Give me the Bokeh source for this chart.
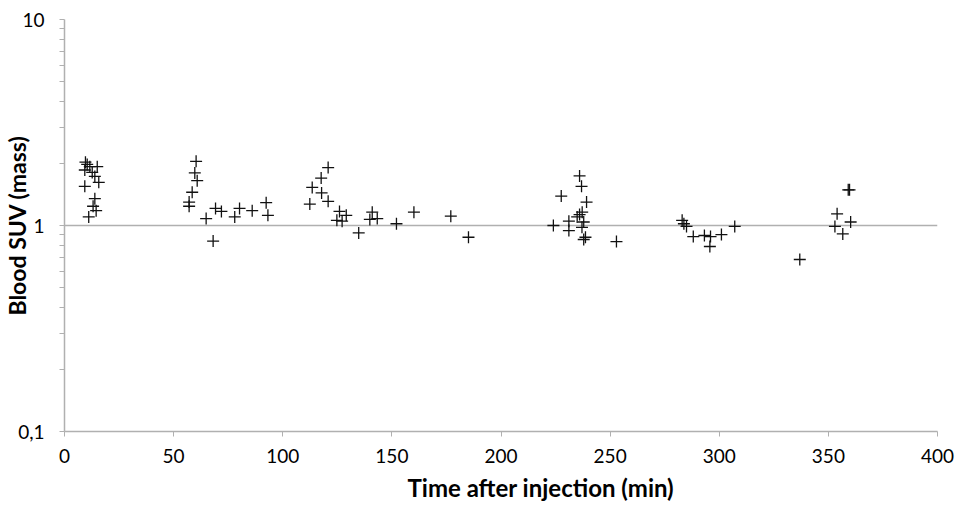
from bokeh.plotting import figure
from bokeh.models import Range1d, FixedTicker, Title
from bokeh.embed import file_html
from bokeh.resources import INLINE

time_min = [9.6, 10.4, 9.3, 11.6, 12.7, 15.0, 13.9, 15.7, 9.3, 13.9, 13.1, 14.5, 11.1,
            60.3, 59.7, 60.8, 58.5, 57.1, 57.1, 64.9, 68.1, 69.2, 71.9, 78.0, 80.2, 86.0, 92.4, 93.2,
            120.8, 117.6, 113.5, 117.8, 120.8, 112.4, 126.0, 129.1, 124.8, 127.2, 134.8, 141.0,
            139.9, 143.3, 152.1, 160.1, 177.0, 185.1,
            236.0, 236.9, 227.6, 239.2, 237.2, 236.0, 234.9, 231.1, 237.9, 224.0, 237.1, 231.1,
            238.7, 237.9, 252.9,
            283.0, 283.8, 285.0, 288.1, 293.2, 296.0, 295.7, 301.0, 307.1,
            359.1, 359.7, 354.0, 360.2, 353.0, 356.6, 336.9]
blood_suv = [2.03, 1.98, 1.86, 1.93, 1.81, 1.93, 1.73, 1.62, 1.55, 1.35, 1.24, 1.18, 1.10,
             2.05, 1.80, 1.65, 1.45, 1.30, 1.24, 1.08, 0.84, 1.21, 1.17, 1.10, 1.21, 1.18, 1.29, 1.12,
             1.91, 1.70, 1.53, 1.44, 1.31, 1.27, 1.17, 1.12, 1.06, 1.05, 0.92, 1.16,
             1.07, 1.08, 1.02, 1.16, 1.11, 0.877,
             1.74, 1.55, 1.39, 1.30, 1.16, 1.13, 1.10, 1.05, 1.04, 1.00, 0.98, 0.945,
             0.877, 0.855, 0.836,
             1.06, 1.02, 0.99, 0.884, 0.894, 0.884, 0.791, 0.904, 0.99,
             1.49, 1.49, 1.14, 1.04, 0.99, 0.91, 0.684]

x_ticks = [0, 50, 100, 150, 200, 250, 300, 350, 400]
y_ticks = [0.1, 1, 10]
y_tick_labels = {0.1: "0,1", 1: "1", 10: "10"}
y_minor = [0.2, 0.3, 0.4, 0.5, 0.6, 0.7, 0.8, 0.9, 2, 3, 4, 5, 6, 7, 8, 9]
x_title = "Time after injection (min)"
y_title = "Blood SUV (mass)"

FONT = "Lato"
AXIS_COLOR = "#b0b0b0"

p = figure(frame_width=873, frame_height=412, y_axis_type="log",
           x_range=Range1d(0, 400), y_range=Range1d(0.1, 10),
           output_backend="svg", toolbar_location=None,
           min_border_left=64, min_border_right=20, min_border_top=19, min_border_bottom=70)
p.outline_line_color = None

p.scatter(time_min, blood_suv, marker="cross", size=12, line_color="#111111", line_width=1.3)

p.xaxis.ticker = FixedTicker(ticks=x_ticks)
p.yaxis.ticker = FixedTicker(ticks=y_ticks, minor_ticks=y_minor)
p.yaxis.major_label_overrides = y_tick_labels

for ax in (p.xaxis, p.yaxis):
    ax.axis_line_color = AXIS_COLOR
    ax.axis_line_width = 1.5
    ax.major_tick_line_color = AXIS_COLOR
    ax.minor_tick_line_color = AXIS_COLOR
    ax.major_tick_in = 0
    ax.major_tick_out = 5
    ax.minor_tick_in = 0
    ax.minor_tick_out = 5
    ax.major_label_text_font = FONT
    ax.major_label_text_font_size = "19px"
    ax.major_label_text_color = "#000000"

p.xaxis.minor_tick_line_color = None
p.xaxis.major_label_standoff = 12
p.yaxis.major_label_standoff = 15

# y title as axis label (pulled in towards the tick labels, as in the reference)
p.yaxis.axis_label = y_title
p.yaxis.axis_label_text_font = FONT
p.yaxis.axis_label_text_font_size = "23px"
p.yaxis.axis_label_text_font_style = "bold"
p.yaxis.axis_label_text_color = "#000000"
p.yaxis.axis_label_standoff = -16

# x title placed below the axis, shifted right as in the reference
p.add_layout(Title(text=x_title, align="left", offset=343, standoff=11,
                   text_font=FONT, text_font_size="24px", text_font_style="bold",
                   text_color="#000000"), "below")

p.xgrid.visible = False
p.ygrid.ticker = FixedTicker(ticks=[1, 10])
p.ygrid.grid_line_color = AXIS_COLOR
p.ygrid.grid_line_width = 1.5
p.ygrid.minor_grid_line_color = None

open("out.html", "w").write(file_html(p, INLINE))
